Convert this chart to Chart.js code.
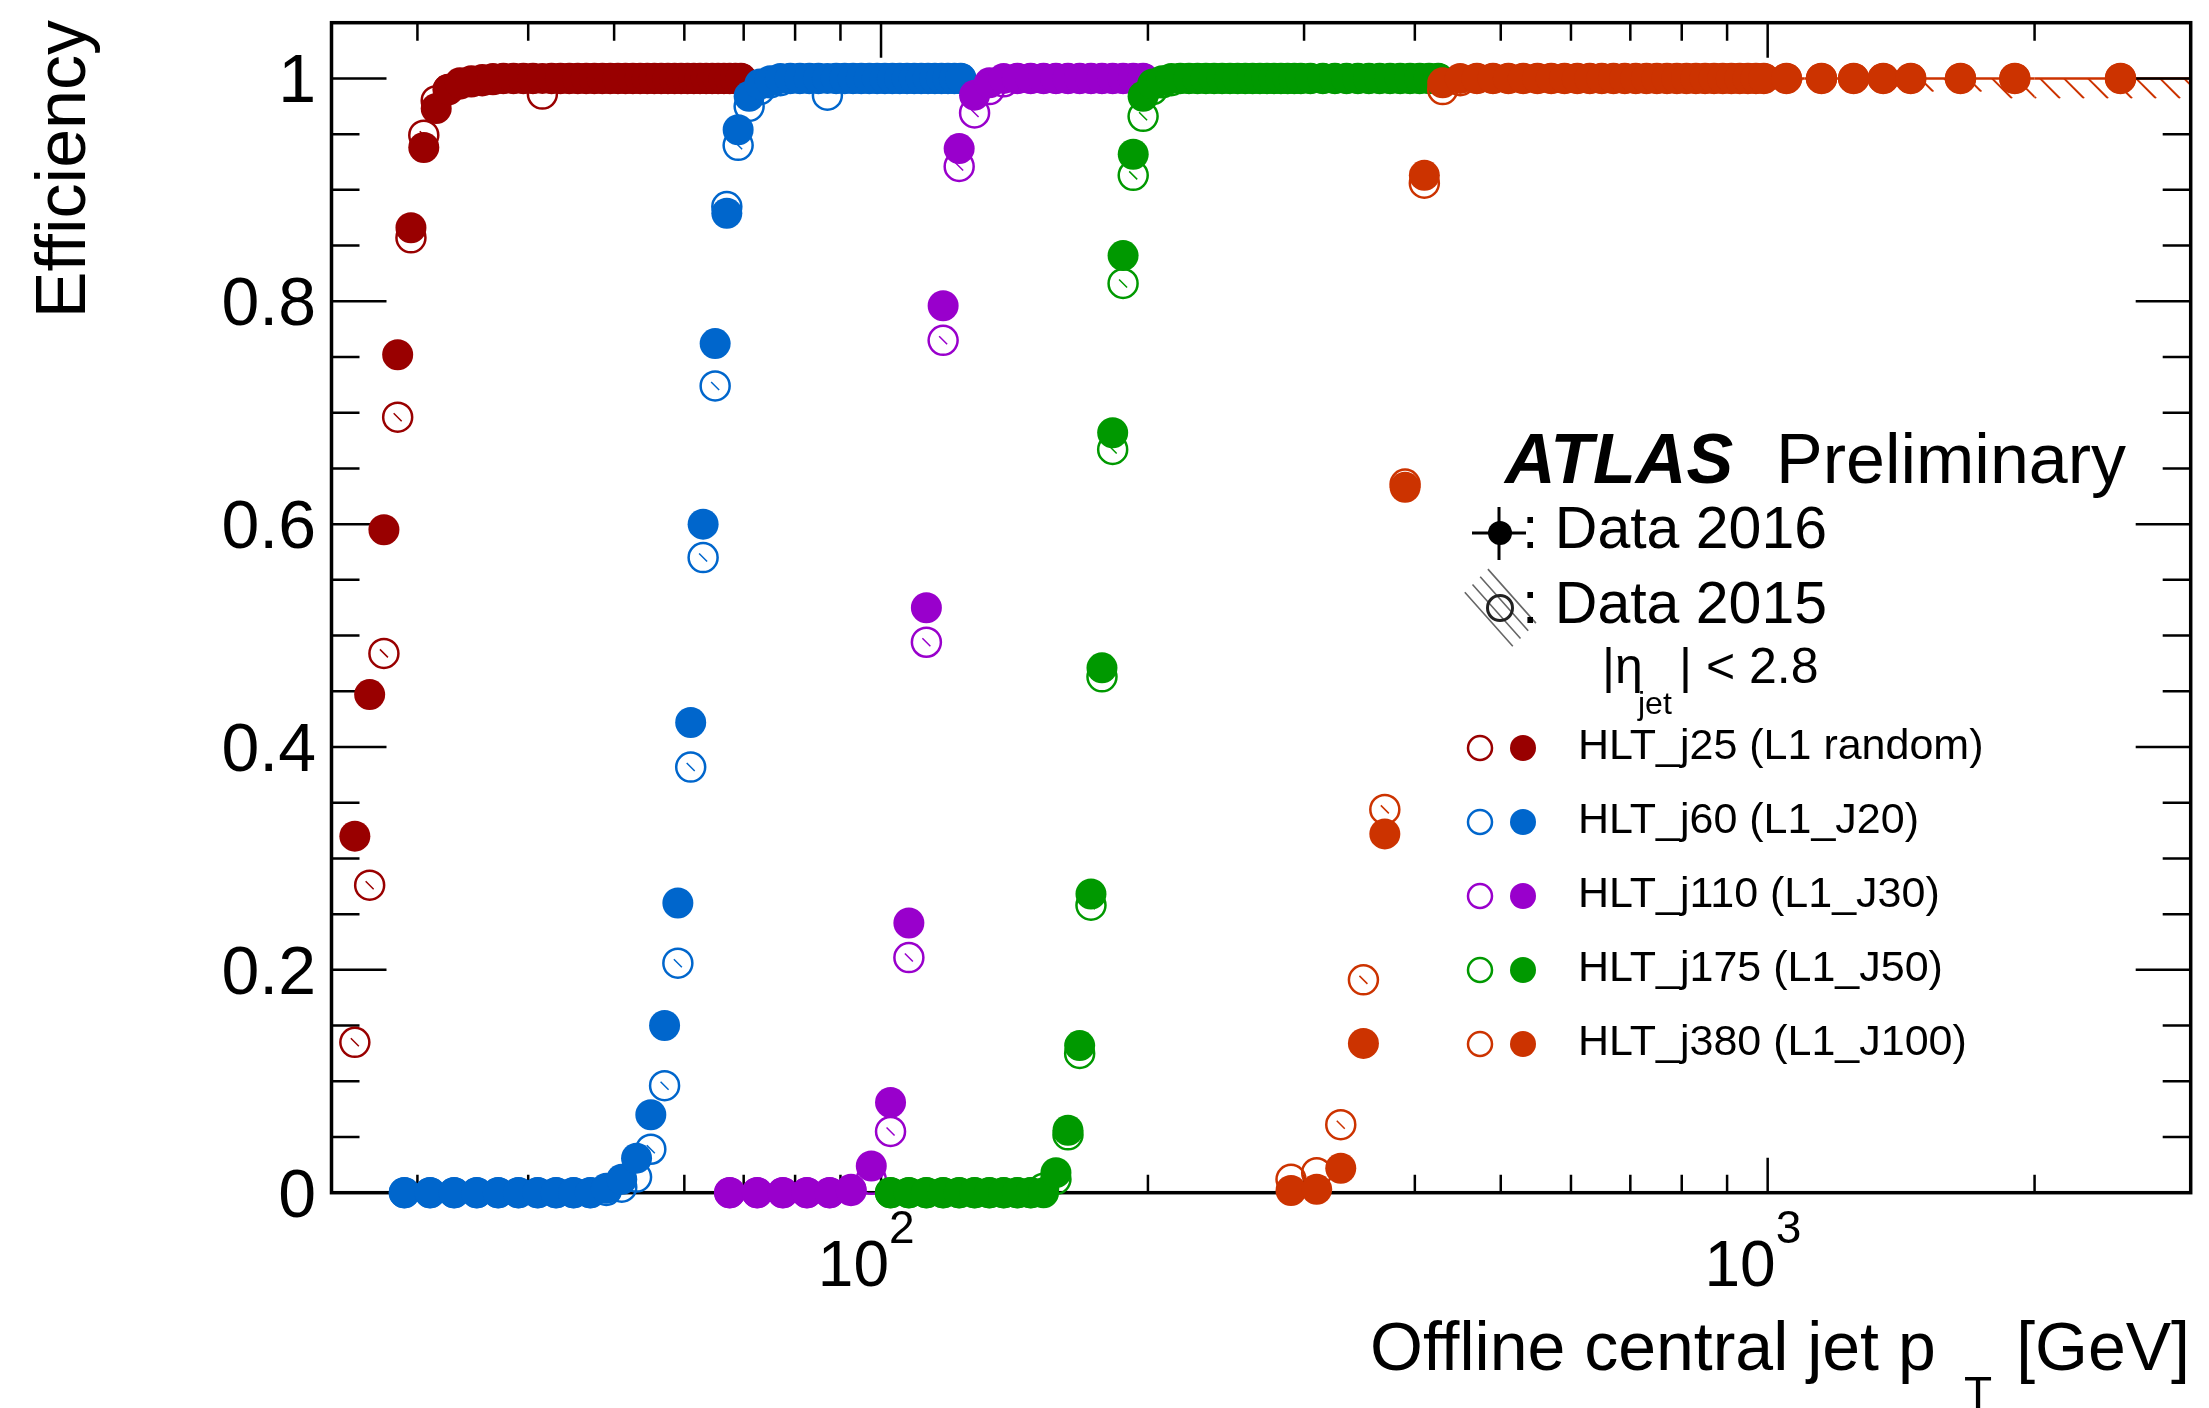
<!DOCTYPE html>
<html>
<head>
<meta charset="utf-8">
<title>HLT jet trigger efficiency</title>
<script src="https://cdn.jsdelivr.net/npm/chart.js@4/dist/chart.umd.min.js"></script>
<style>
  html, body { margin: 0; padding: 0; background: #fff; }
  #wrap { width: 2209px; height: 1408px; }
</style>
</head>
<body>
<div id="wrap"><canvas id="eff" width="2209" height="1408"></canvas></div>
<script>
// values: efficiency vs offline central jet pT [GeV]

// HLT_j25 (L1 random), 1 GeV bins
const j25Pt = [25.5, 26.5, 27.5, 28.5, 29.5, 30.5, 31.5, 32.5, 33.5, 34.5,
  35.5, 36.5, 37.5, 38.5, 39.5, 40.5, 41.5, 42.5, 43.5, 44.5,
  45.5, 46.5, 47.5, 48.5, 49.5, 50.5, 51.5, 52.5, 53.5, 54.5,
  55.5, 56.5, 57.5, 58.5, 59.5, 60.5, 61.5, 62.5, 63.5, 64.5,
  65.5, 66.5, 67.5, 68.5, 69.5];
const j25Eff2016 = [0.32, 0.447, 0.595, 0.752, 0.866, 0.938, 0.973, 0.99, 0.996, 0.998,
  0.999, 1, 1, 1, 1, 1, 1, 1, 1, 1,
  1, 1, 1, 1, 1, 1, 1, 1, 1, 1,
  1, 1, 1, 1, 1, 1, 1, 1, 1, 1,
  1, 1, 1, 1, 1];
const j25Eff2015 = [0.135, 0.276, 0.484, 0.696, 0.857, 0.949, 0.98, 0.99, 0.995, 0.997,
  0.998, 0.999, 1, 1, 1, 1, 0.986, 1, 1, 1,
  1, 1, 1, 1, 1, 1, 1, 1, 1, 1,
  1, 1, 1, 1, 1, 1, 1, 1, 1, 1,
  1, 1, 1, 1, 1];

// HLT_j60 (L1_J20), 2 GeV bins
const j60Pt = [29, 31, 33, 35, 37, 39, 41, 43, 45, 47,
  49, 51, 53, 55, 57, 59, 61, 63, 65, 67,
  69, 71, 73, 75, 77, 79, 81, 83, 85, 87,
  89, 91, 93, 95, 97, 99, 101, 103, 105, 107,
  109, 111, 113, 115, 117, 119, 121, 123];
const j60Eff2016 = [0, 0, 0, 0, 0, 0, 0, 0, 0, 0,
  0.004, 0.012, 0.031, 0.07, 0.15, 0.26, 0.422, 0.6, 0.762, 0.879,
  0.954, 0.984, 0.995, 0.998, 1, 1, 1, 1, 1, 1,
  1, 1, 1, 1, 1, 1, 1, 1, 1, 1,
  1, 1, 1, 1, 1, 1, 1, 1];
const j60Eff2015 = [0, 0, 0, 0, 0, 0, 0, 0, 0, 0,
  0.002, 0.005, 0.014, 0.039, 0.096, 0.206, 0.382, 0.57, 0.724, 0.885,
  0.94, 0.975, 0.99, 0.996, 0.998, 1, 1, 1, 1, 0.985,
  1, 1, 1, 1, 1, 1, 1, 1, 1, 1,
  1, 1, 1, 1, 1, 1, 1, 1];

// HLT_j110 (L1_J30), 5 GeV bins
const j110Pt = [67.5, 72.5, 77.5, 82.5, 87.5, 92.5, 97.5, 102.5, 107.5, 112.5,
  117.5, 122.5, 127.5, 132.5, 137.5, 142.5, 147.5, 152.5, 157.5, 162.5,
  167.5, 172.5, 177.5, 182.5, 187.5, 192.5, 197.5];
const j110Eff2016 = [0, 0, 0, 0, 0, 0.003, 0.024, 0.081, 0.242, 0.525,
  0.796, 0.937, 0.985, 0.996, 1, 1, 1, 1, 1, 1,
  1, 1, 1, 1, 1, 1, 1];
const j110Eff2015 = [0, 0, 0, 0, 0, 0.002, 0.012, 0.055, 0.211, 0.494,
  0.765, 0.921, 0.969, 0.99, 0.997, 1, 1, 1, 1, 1,
  1, 1, 1, 1, 1, 1, 1];

// HLT_j175 (L1_J50)
const j175Pt = [102.5, 107.5, 112.5, 117.5, 122.5, 127.5, 132.5, 137.5, 142.5, 147.5,
  152.5, 157.5, 162.5, 167.5, 172.5, 177.5, 182.5, 187.5, 192.5, 197.5,
  202.5, 207.5, 212.5, 217.5, 222.5, 227.5, 232.5, 237.5, 242.5, 247.5,
  252.5, 257.5, 262.5, 267.5, 272.5, 277.5, 282.5, 287.5, 292.5, 297.5,
  305, 315, 325, 335, 345, 355, 365, 375, 385, 395,
  405, 415, 425];
const j175Eff2016 = [0, 0, 0, 0, 0, 0, 0, 0, 0, 0,
  0, 0.018, 0.056, 0.132, 0.268, 0.471, 0.682, 0.841, 0.932, 0.984,
  0.995, 0.998, 1, 1, 1, 1, 1, 1, 1, 1,
  1, 1, 1, 1, 1, 1, 1, 1, 1, 1,
  1, 1, 1, 1, 1, 1, 1, 1, 1, 1,
  1, 1, 1];
const j175Eff2015 = [0, 0, 0, 0, 0, 0, 0, 0, 0, 0,
  0.004, 0.012, 0.052, 0.125, 0.258, 0.463, 0.667, 0.816, 0.913, 0.966,
  0.99, 0.996, 0.998, 1, 1, 1, 1, 1, 1, 1,
  1, 1, 1, 1, 1, 1, 1, 1, 1, 1,
  1, 1, 1, 1, 1, 1, 1, 1, 1, 1,
  1, 1, 1];

// HLT_j380 (L1_J100), 20 GeV bins then wide bins in the tail
const j380Pt = [290, 310, 330, 350, 370, 390, 410, 430, 450, 470,
  490, 510, 530, 550, 570, 590, 610, 630, 650, 670,
  690, 710, 730, 750, 770, 790, 810, 830, 850, 870,
  890, 910, 930, 950, 970, 990,
  1050, 1150, 1250, 1350, 1450, 1650, 1900, 2500];
const j380Eff2016 = [0.002, 0.003, 0.022, 0.134, 0.322, 0.633, 0.913, 0.996, 1, 1,
  1, 1, 1, 1, 1, 1, 1, 1, 1, 1,
  1, 1, 1, 1, 1, 1, 1, 1, 1, 1,
  1, 1, 1, 1, 1, 1,
  1, 1, 1, 1, 1, 1, 1, 1];
const j380Eff2015 = [0.012, 0.018, 0.061, 0.191, 0.344, 0.636, 0.906, 0.99, 0.998, 1,
  1, 1, 1, 1, 1, 1, 1, 1, 1, 1,
  1, 1, 1, 1, 1, 1, 1, 1, 1, 1,
  1, 1, 1, 1, 1, 1,
  1, 1, 1, 1, 1, 1, 1, 1];
// bin edges of the wide tail bins (last 8 points) and the 2015 lower uncertainty there
const j380TailLo = [1000, 1100, 1200, 1300, 1400, 1500, 1800, 2000];
const j380TailHi = [1100, 1200, 1300, 1400, 1500, 1800, 2000, 3000];
const j380TailErr2015 = [0.002, 0.003, 0.004, 0.005, 0.006, 0.012, 0.018, 0.018];

// axes
const xMajorTicks = [100, 1000];
const xMajorBase = ['10', '10'];
const xMajorExp = ['2', '3'];
const xMinorTicks = [30, 40, 50, 60, 70, 80, 90, 200, 300, 400, 500, 600, 700, 800, 900, 2000];
const yMajorTicks = [0, 0.2, 0.4, 0.6, 0.8, 1];
const yTickLabels = ['0', '0.2', '0.4', '0.6', '0.8', '1'];
const yMinorTicks = [0.05, 0.1, 0.15, 0.25, 0.3, 0.35, 0.45, 0.5, 0.55, 0.65, 0.7, 0.75, 0.85, 0.9, 0.95];

const triggers = [
  { name: 'HLT_j25 (L1 random)', color: '#990000', pt: j25Pt, eff16: j25Eff2016, eff15: j25Eff2015 },
  { name: 'HLT_j60 (L1_J20)', color: '#0066cc', pt: j60Pt, eff16: j60Eff2016, eff15: j60Eff2015 },
  { name: 'HLT_j110 (L1_J30)', color: '#9900cc', pt: j110Pt, eff16: j110Eff2016, eff15: j110Eff2015 },
  { name: 'HLT_j175 (L1_J50)', color: '#009900', pt: j175Pt, eff16: j175Eff2016, eff15: j175Eff2015 },
  { name: 'HLT_j380 (L1_J100)', color: '#cc3300', pt: j380Pt, eff16: j380Eff2016, eff15: j380Eff2015 }
];

const FONT = '"Liberation Sans", Arial, Helvetica, sans-serif';

const toPoints = (pt, eff) => pt.map((p, i) => ({ x: p, y: eff[i] }));

const datasets = [];
triggers.forEach((t, i) => {
  // later triggers on top, 2016 (filled) above 2015 (open)
  const layer = 2 * (triggers.length - 1 - i);
  datasets.push({
    label: t.name + ' 2015',
    data: toPoints(t.pt, t.eff15),
    order: layer + 1,
    showLine: false,
    clip: false,
    pointStyle: 'circle',
    pointRadius: 14.5,
    pointBorderWidth: 2.5,
    pointBorderColor: t.color,
    pointBackgroundColor: 'rgba(255,255,255,0)'
  });
  datasets.push({
    label: t.name + ' 2016',
    data: toPoints(t.pt, t.eff16),
    order: layer,
    showLine: false,
    clip: false,
    pointStyle: 'circle',
    pointRadius: 15.5,
    pointBorderWidth: 0,
    pointBorderColor: t.color,
    pointBackgroundColor: t.color
  });
});

function hatchBox(ctx, x0, y0, x1, y1, step) {
  // "\\\" hatching clipped to the box, aligned to the canvas
  const h = y1 - y0;
  ctx.save();
  ctx.beginPath();
  ctx.rect(x0, y0, x1 - x0, h);
  ctx.clip();
  ctx.beginPath();
  const start = Math.floor((x0 - h) / step) * step;
  for (let hx = start; hx < x1; hx += step) {
    ctx.moveTo(hx, y0);
    ctx.lineTo(hx + h, y1);
  }
  ctx.stroke();
  ctx.restore();
}

const atlasFrame = {
  id: 'atlasFrame',
  beforeDatasetsDraw(chart) {
    const { ctx, chartArea: a, scales: { x, y } } = chart;
    ctx.save();

    // small hatch strokes of the 2015 uncertainty inside the open markers
    ctx.lineWidth = 1.5;
    triggers.forEach(t => {
      ctx.strokeStyle = t.color;
      ctx.beginPath();
      t.pt.forEach((p, i) => {
        const e = t.eff15[i];
        if (e < 0.03 || e > 0.975) return;
        const px = x.getPixelForValue(p), py = y.getPixelForValue(e);
        ctx.moveTo(px - 4, py - 4);
        ctx.lineTo(px + 4, py + 4);
      });
      ctx.stroke();
    });

    // high-pT tail of HLT_j380: x error bars and hatched 2015 uncertainty
    const red = triggers[4].color;
    const off = j380Pt.length - j380TailLo.length;
    ctx.strokeStyle = red;
    for (let i = 0; i < j380TailLo.length; i++) {
      const x0 = x.getPixelForValue(j380TailLo[i]);
      const x1 = x.getPixelForValue(j380TailHi[i]);
      const e15 = j380Eff2015[off + i];
      ctx.lineWidth = 2;
      hatchBox(ctx, x0, y.getPixelForValue(e15), x1, y.getPixelForValue(e15 - j380TailErr2015[i]), 24);
      ctx.lineWidth = 2.5;
      ctx.beginPath();
      const yy = y.getPixelForValue(j380Eff2016[off + i]);
      ctx.moveTo(x0, yy);
      ctx.lineTo(x1, yy);
      ctx.stroke();
    }

    // frame
    ctx.strokeStyle = '#000';
    ctx.lineWidth = 3.5;
    ctx.strokeRect(a.left, a.top, a.right - a.left, a.bottom - a.top);

    // ticks, pointing inwards on all four sides
    ctx.lineWidth = 2.5;
    ctx.beginPath();
    const xTick = (v, len) => {
      const px = x.getPixelForValue(v);
      ctx.moveTo(px, a.bottom); ctx.lineTo(px, a.bottom - len);
      ctx.moveTo(px, a.top); ctx.lineTo(px, a.top + len);
    };
    const yTick = (v, len) => {
      const py = y.getPixelForValue(v);
      ctx.moveTo(a.left, py); ctx.lineTo(a.left + len, py);
      ctx.moveTo(a.right, py); ctx.lineTo(a.right - len, py);
    };
    xMajorTicks.forEach(v => xTick(v, 35));
    xMinorTicks.forEach(v => xTick(v, 18));
    yMajorTicks.forEach(v => yTick(v, 55));
    yMinorTicks.forEach(v => yTick(v, 28));
    ctx.stroke();
    ctx.restore();
  },

  afterDraw(chart) {
    const { ctx, scales: { x, y } } = chart;
    ctx.save();
    ctx.fillStyle = '#000';
    ctx.textBaseline = 'alphabetic';

    // y tick labels
    ctx.font = '68px ' + FONT;
    ctx.textAlign = 'right';
    yMajorTicks.forEach((v, i) => {
      ctx.fillText(yTickLabels[i], 316, y.getPixelForValue(v) + 24);
    });

    // x tick labels 10^n
    xMajorTicks.forEach((v, i) => {
      const px = x.getPixelForValue(v);
      ctx.font = '64px ' + FONT;
      ctx.textAlign = 'right';
      ctx.fillText(xMajorBase[i], px + 8, 1286);
      ctx.font = '46px ' + FONT;
      ctx.textAlign = 'left';
      ctx.fillText(xMajorExp[i], px + 8, 1243);
    });

    // axis titles
    ctx.font = '68px ' + FONT;
    ctx.textAlign = 'left';
    ctx.fillText('Offline central jet p', 1370, 1370);
    ctx.font = '46px ' + FONT;
    ctx.fillText('T', 1964, 1409);
    ctx.font = '68px ' + FONT;
    ctx.textAlign = 'right';
    ctx.fillText('[GeV]', 2190, 1370);

    ctx.save();
    ctx.translate(85, 20);
    ctx.rotate(-Math.PI / 2);
    ctx.font = '70px ' + FONT;
    ctx.textAlign = 'right';
    ctx.fillText('Efficiency', 0, 0);
    ctx.restore();

    // ATLAS label
    ctx.textAlign = 'left';
    ctx.font = 'italic bold 70px ' + FONT;
    ctx.fillText('ATLAS', 1505, 483);
    ctx.font = '70px ' + FONT;
    ctx.fillText('Preliminary', 1776, 483);

    // Data 2016 symbol: filled marker with error cross
    ctx.strokeStyle = '#000';
    ctx.lineWidth = 3;
    ctx.beginPath();
    ctx.moveTo(1472, 533); ctx.lineTo(1526, 533);
    ctx.moveTo(1499, 507); ctx.lineTo(1499, 560);
    ctx.stroke();
    ctx.beginPath();
    ctx.arc(1500, 533, 12, 0, Math.PI * 2);
    ctx.fill();
    ctx.font = '59px ' + FONT;
    ctx.fillText(': Data 2016', 1522, 548);

    // Data 2015 symbol: open marker with diagonal hatch lines
    ctx.strokeStyle = '#666';
    ctx.lineWidth = 1.6;
    ctx.beginPath();
    [-16, -5, 6, 17].forEach(d => {
      const cx = 1500 + d * 0.7, cy = 608 - d * 0.7;
      ctx.moveTo(cx - 24, cy - 27);
      ctx.lineTo(cx + 24, cy + 27);
    });
    ctx.stroke();
    ctx.strokeStyle = '#222';
    ctx.lineWidth = 3;
    ctx.beginPath();
    ctx.arc(1500, 608, 12.5, 0, Math.PI * 2);
    ctx.stroke();
    ctx.fillText(': Data 2015', 1522, 623);

    // |eta_jet| < 2.8
    ctx.font = '50px ' + FONT;
    ctx.fillText('|\u03b7', 1602, 683);
    ctx.font = '32px ' + FONT;
    ctx.fillText('jet', 1638, 714);
    ctx.font = '50px ' + FONT;
    ctx.fillText('| < 2.8', 1679, 683);

    // trigger legend
    triggers.forEach((t, i) => {
      const cy = 748 + 74 * i;
      ctx.strokeStyle = t.color;
      ctx.lineWidth = 2.5;
      ctx.beginPath();
      ctx.arc(1480, cy, 12, 0, Math.PI * 2);
      ctx.stroke();
      ctx.fillStyle = t.color;
      ctx.beginPath();
      ctx.arc(1523, cy, 13, 0, Math.PI * 2);
      ctx.fill();
      ctx.fillStyle = '#000';
      ctx.font = '43px ' + FONT;
      ctx.fillText(t.name, 1578, cy + 11);
    });

    ctx.restore();
  }
};

new Chart(document.getElementById('eff'), {
  type: 'scatter',
  data: { datasets: datasets },
  options: {
    responsive: false,
    devicePixelRatio: 1,
    animation: false,
    events: [],
    layout: { padding: { left: 331.5, right: 18.3, top: 22.7, bottom: 215.3 } },
    plugins: { legend: { display: false }, tooltip: { enabled: false } },
    scales: {
      x: { type: 'logarithmic', min: 24, max: 3000, display: false },
      y: { type: 'linear', min: 0, max: 1.05, display: false }
    }
  },
  plugins: [atlasFrame]
});
</script>
</body>
</html>
